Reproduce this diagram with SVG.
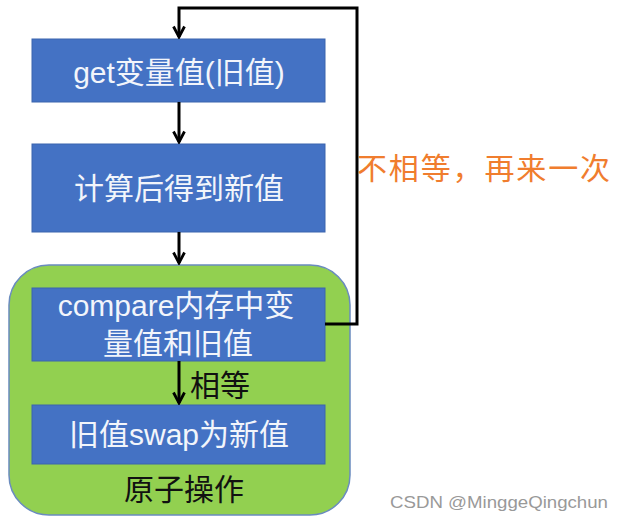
<svg xmlns="http://www.w3.org/2000/svg" width="620" height="523" viewBox="0 0 620 523">
<style>
.box{fill:#4472C4;stroke:#3B64AE;stroke-width:1}
.bt{font-family:"Liberation Sans","Noto Sans CJK SC",sans-serif;font-size:30px;fill:#F2F5FB;text-anchor:middle}
.ln{fill:none;stroke:#000;stroke-width:3}
.lbl{font-family:"Liberation Sans","Noto Sans CJK SC",sans-serif;font-size:30px}
</style>
<defs>
<marker id="ah" viewBox="0 0 14 14" refX="12" refY="7" markerWidth="14" markerHeight="14" markerUnits="userSpaceOnUse" orient="auto">
<path d="M1.5,1.5 L12,7 L1.5,12.5" fill="none" stroke="#000" stroke-width="2.8"/>
</marker>
</defs>
<rect width="620" height="523" fill="#fff"/>
<g id="atomic">
<rect x="9" y="265" width="341" height="250" rx="40" ry="40" fill="#92D050" stroke="#6A8BBF" stroke-width="1.5"/>
<text class="lbl" x="184" y="500" text-anchor="middle" fill="#111">原子操作</text>
</g>
<g id="get">
<rect class="box" x="32" y="39" width="293" height="63"/>
<text class="bt" x="179" y="83">get变量值(旧值)</text>
</g>
<g id="calc">
<rect class="box" x="32" y="144" width="293" height="88"/>
<text class="bt" x="179" y="199">计算后得到新值</text>
</g>
<g id="compare">
<rect class="box" x="32" y="288" width="293" height="73"/>
<text class="bt" x="176" y="316">compare内存中变</text>
<text class="bt" x="178" y="354">量值和旧值</text>
</g>
<g id="swap">
<rect class="box" x="32" y="405" width="293" height="59"/>
<text class="bt" x="179" y="445">旧值swap为新值</text>
</g>
<g id="connectors">
<path class="ln" d="M179,102 V142" marker-end="url(#ah)"/>
<path class="ln" d="M179,232 V263" marker-end="url(#ah)"/>
<path class="ln" d="M179,361 V403" marker-end="url(#ah)"/>
<path class="ln" d="M325,324 H357 V8 H179 V37" marker-end="url(#ah)"/>
<text class="lbl" x="190" y="396" fill="#111">相等</text>
<text class="lbl" x="357" y="179" fill="#F07D2E" textLength="253" lengthAdjust="spacing">不相等，再来一次</text>
</g>
<text x="390" y="508" font-family="'Liberation Sans',sans-serif" font-size="17" fill="#999" textLength="218" lengthAdjust="spacingAndGlyphs">CSDN @MinggeQingchun</text>
</svg>
